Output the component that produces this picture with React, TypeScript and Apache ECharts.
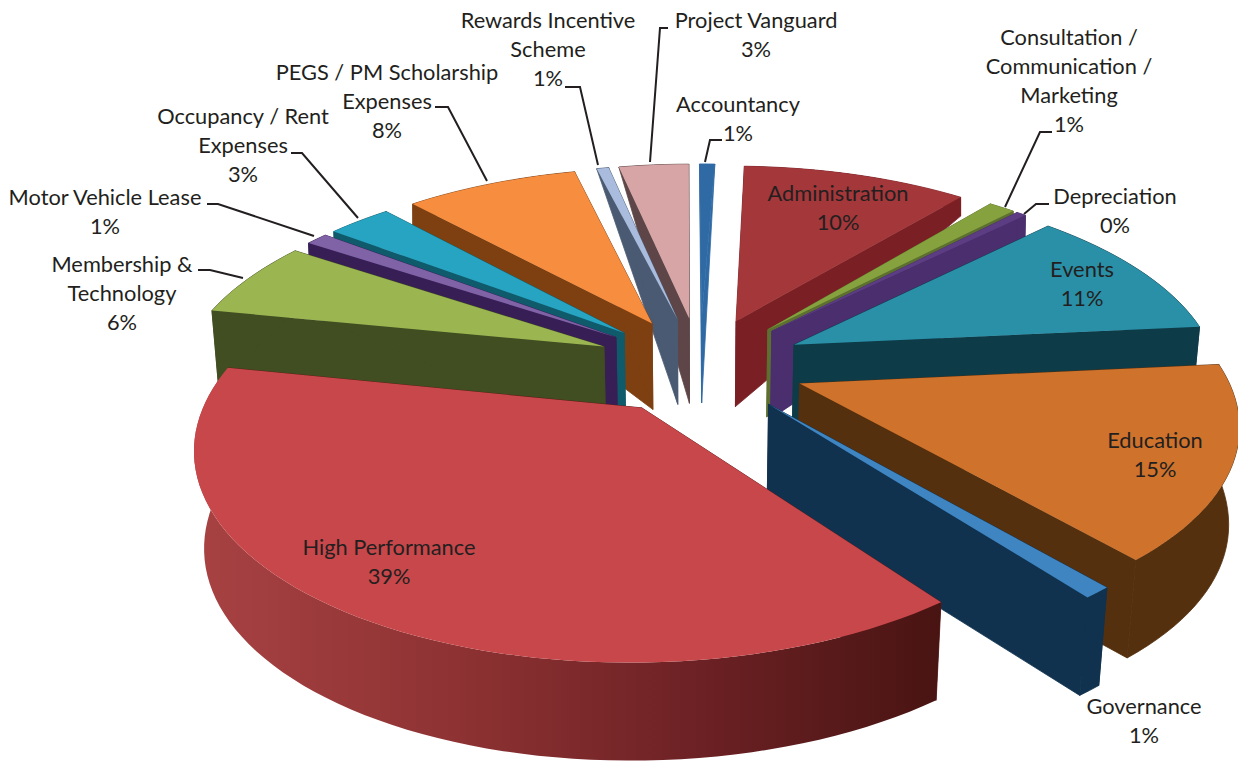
import React, { useEffect, useRef } from "react";
import * as echarts from "echarts";

const categories = [
  "Administration", "Consultation / Communication / Marketing", "Depreciation", "Events", "Education",
  "Governance", "High Performance", "Membership & Technology", "Motor Vehicle Lease",
  "Occupancy / Rent Expenses", "PEGS / PM Scholarship Expenses", "Rewards Incentive Scheme",
  "Project Vanguard", "Accountancy",
];
const values = [10.3, 1.2, 0.45, 10.9, 15.3, 0.9, 38.5, 6.2, 1.0, 2.9, 7.9, 0.55, 3.2, 0.7];
const topColors = ["#A4373A", "#86A23E", "#5C3D83", "#2A90A8", "#CF722B", "#3F85C2", "#C8474A", "#9BB551", "#8062A6", "#27A4C1", "#F78D3F", "#A9BCDD", "#D7A5A6", "#2F6AA5"];
const wallColors = ["#7A2025", "#5D7030", "#4A2E6E", "#0E3B48", "#54300F", "#10324F", "#5A1A1A", "#414E21", "#371F56", "#0F5A6B", "#7E4011", "#4A5A72", "#5E4648", "#2F6AA5"];

const labelLines = [
  ["Administration", "10%"], ["Consultation /", "Communication /", "Marketing", "1%"], ["Depreciation", "0%"],
  ["Events", "11%"], ["Education", "15%"], ["Governance", "1%"], ["High Performance", "39%"],
  ["Membership &", "Technology", "6%"], ["Motor Vehicle Lease", "1%"], ["Occupancy / Rent", "Expenses", "3%"],
  ["PEGS / PM Scholarship", "Expenses", "8%"], ["Rewards Incentive", "Scheme", "1%"], ["Project Vanguard", "3%"], ["Accountancy", "1%"],
];
const labelX = [838, 1069, 1115, 1082, 1155, 1144, 389, 122, 105, 243, 387, 548, 756, 738];
const labelY = [192, 36, 195, 268, 439, 705, 546, 263, 196, 115, 71, 19, 19, 103];
const leaders: number[][][] = [
  [[1052, 132], [1040, 132], [1005, 207]],
  [[1049, 204], [1036, 204], [1024, 214]],
  [[207, 204], [218, 204], [314, 236]],
  [[198, 270], [210, 270], [243, 278]],
  [[291, 153], [302, 153], [358, 218]],
  [[435, 107], [448, 107], [487, 181]],
  [[565, 87], [580, 87], [598, 165]],
  [[668, 28], [660, 28], [650, 162]],
  [[722, 140], [710, 140], [705, 162]],
];

const CX = 700, CY = 365, RX = 423, RY = 195, K = 0.17, EXPLODE = 0.25, START_DEG = 2.2;
const total = values.reduce((a, b) => a + b, 0);
const starts: number[] = [];
values.reduce((acc, v, i) => { starts[i] = acc; return acc + v; }, 0);
const ang = (pct: number) => ((START_DEG + (pct / total) * 360) * Math.PI) / 180;

const project = (u: number, v: number): [number, number] => {
  const w = 1 + K * v;
  return [CX + (RX * u) / w, CY - (RY * v) / w];
};
const drop = (p: number[]): [number, number] => {
  const t = Math.max(0, Math.min(1.05, (600 - p[1]) / 400));
  const h = 98 * (1 - 0.78 * Math.pow(t, 5));
  const shrink = 0.02 * Math.max(0, Math.min(1, (p[1] - 200) / 150));
  return [CX + (p[0] - CX) * (1 - shrink), p[1] + h];
};

const midOf = (i: number) => ang(starts[i] + values[i] / 2);
const order = values.map((_, i) => i).sort((a, b) => Math.cos(midOf(b)) - Math.cos(midOf(a)));

function renderSlice(_params: any, api: any) {
  const i = api.value(0) as number;
  const a0 = ang(starts[i]);
  const a1 = ang(starts[i] + values[i]);
  const mid = (a0 + a1) / 2;
  const ex = EXPLODE * Math.sin(mid);
  const ey = EXPLODE * Math.cos(mid);
  const apex = project(ex, ey);
  const rim: [number, number][] = [];
  const steps = Math.max(2, Math.ceil(((a1 - a0) * 180) / Math.PI / 2));
  for (let s = 0; s <= steps; s++) {
    const a = a0 + ((a1 - a0) * s) / steps;
    rim.push(project(ex + Math.sin(a), ey + Math.cos(a)));
  }
  const first = rim[0];
  const last = rim[rim.length - 1];
  const wall = wallColors[i];
  const isHP = values[i] === Math.max(...values);
  const outerFill: any = isHP
    ? new echarts.graphic.LinearGradient(0, 0, 1, 0, [
        { offset: 0, color: "#A84243" },
        { offset: 0.35, color: "#8E3233" },
        { offset: 0.7, color: "#6A2023" },
        { offset: 1, color: "#481412" },
      ])
    : wall;
  const poly = (points: number[][], fill: any, stroke: string) => ({
    type: "polygon",
    shape: { points },
    style: { fill, stroke, lineWidth: stroke === "none" ? 0 : 0.8 },
    silent: true,
  });
  const children = [
    poly([apex, first, drop(first), drop(apex)], wall, wall),
    poly([apex, last, drop(last), drop(apex)], wall, wall),
    poly([...rim, ...rim.slice().reverse().map(drop)], outerFill, isHP ? "none" : wall),
    poly([apex, ...rim], topColors[i], "none"),
  ];
  return { type: "group", children };
}

const seriesData = order.map((i) => ({ name: categories[i], value: [i, values[i]] }));

const LINE_H = 29;
const textElements = labelLines.flatMap((lines, i) =>
  lines.map((t, j) => ({
    type: "text",
    z: 10,
    x: labelX[i],
    y: labelY[i] + j * LINE_H,
    style: {
      text: t,
      fill: "#231F20",
      font: '21.8px Lato, "Open Sans", sans-serif',
      textAlign: "center",
      textVerticalAlign: "middle",
    },
  }))
);
const leaderElements = leaders.map((points) => ({
  type: "polyline",
  z: 9,
  shape: { points },
  style: { stroke: "#231F20", lineWidth: 2, fill: "none" },
}));

export default function App() {
  const ref = useRef<HTMLDivElement>(null);
  useEffect(() => {
    const chart = echarts.init(ref.current!, undefined, { renderer: "svg" });
    chart.setOption({
      animation: false,
      backgroundColor: "#ffffff",
      series: [
        {
          type: "custom",
          coordinateSystem: "none",
          renderItem: renderSlice,
          data: seriesData,
          silent: true,
        },
      ],
      graphic: { elements: [...leaderElements, ...textElements] },
    });
    return () => chart.dispose();
  }, []);
  return <div ref={ref} style={{ position: "absolute", left: 0, top: 0, width: 1238, height: 764 }} />;
}
